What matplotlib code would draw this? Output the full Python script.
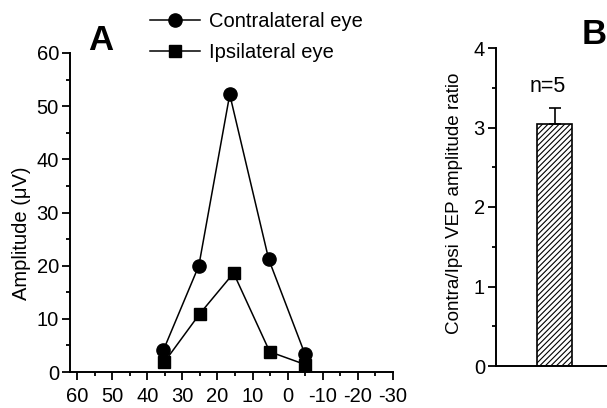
import matplotlib
matplotlib.use("Agg")
import matplotlib.pyplot as plt
from matplotlib.ticker import MultipleLocator

plt.rcParams['font.family'] = ['Liberation Sans', 'DejaVu Sans']
plt.rcParams['hatch.linewidth'] = 0.8
plt.rcParams['axes.unicode_minus'] = False

# ---- data ----
contra_x = [35.4, 25.3, 16.5, 5.4, -4.9]
contra_y = [4.1, 20.0, 52.2, 21.2, 3.4]
ipsi_x = [35.2, 25.1, 15.4, 5.1, -5.0]
ipsi_y = [1.8, 10.9, 18.6, 3.8, 1.4]
x_ticks = [60, 50, 40, 30, 20, 10, 0, -10, -20, -30]
y_ticks_a = [0, 10, 20, 30, 40, 50, 60]
ratio_val = [3.04]
ratio_err = [0.21]
ratio_n = ["n=5"]
y_ticks_b = [0, 1, 2, 3, 4]

W, H = 607, 408
fig = plt.figure(figsize=(W / 100, H / 100), dpi=100)


def rect(l, t, r, b):
    return [l / W, 1 - b / H, (r - l) / W, (b - t) / H]


def style(ax):
    for s in ['top', 'right']:
        ax.spines[s].set_visible(False)
    for s in ['left', 'bottom']:
        ax.spines[s].set_linewidth(1.4)
    ax.tick_params(which='major', direction='out', length=6, width=1.3,
                   labelsize=14.5, pad=2)
    ax.tick_params(which='minor', direction='out', length=3, width=1.3)


# ---- Panel A ----
axA = fig.add_axes(rect(70, 53, 393, 372))
style(axA)
axA.plot(contra_x, contra_y, '-o', color='black', lw=1.1, ms=9.5,
         label='Contralateral eye', clip_on=False, zorder=3)
axA.plot(ipsi_x, ipsi_y, '-s', color='black', lw=1.1, ms=8.5,
         label='Ipsilateral eye', clip_on=False, zorder=3)
axA.set_xlim(62, -30)
axA.set_ylim(0, 60)
axA.set_xticks(x_ticks)
axA.set_yticks(y_ticks_a)
axA.xaxis.set_minor_locator(MultipleLocator(5))
axA.yaxis.set_minor_locator(MultipleLocator(5))
axA.tick_params(axis='x', pad=5)
fig.text(22 / W, 1 - 233 / H, 'Amplitude (\u03bcV)', rotation=90,
         ha='center', va='center', fontsize=14.5)
fig.text(101 / W, 1 - 40 / H, 'A', fontsize=25, fontweight='bold',
         ha='center', va='center')
fig.legend(loc='upper left', bbox_to_anchor=(150 / W, 1 - 12 / H),
           frameon=False, fontsize=14.5, handlelength=2.5,
           handletextpad=0.45, labelspacing=0.6, borderaxespad=0,
           borderpad=0)

# ---- Panel B ----
axB = fig.add_axes(rect(496, 48, 620, 366))
style(axB)
axB.bar([0], ratio_val, width=0.7, color='white', edgecolor='black',
        hatch='//////', linewidth=1.2)
axB.errorbar([0], ratio_val, yerr=[[0], ratio_err], fmt='none',
             ecolor='black', elinewidth=1.2, capsize=4, capthick=1.2)
axB.text(-0.13, ratio_val[0] + ratio_err[0] + 0.13, ratio_n[0],
         ha='center', va='bottom', fontsize=15.5)
axB.set_xlim(-1.17, 1.31)
axB.set_ylim(0, 4)
axB.set_yticks(y_ticks_b)
axB.set_xticks([])
axB.yaxis.set_minor_locator(MultipleLocator(0.5))
fig.text(455 / W, 1 - 203 / H, 'Contra/Ipsi VEP amplitude ratio',
         rotation=90, ha='center', va='center', fontsize=13.6)
fig.text(594 / W, 1 - 35 / H, 'B', fontsize=25, fontweight='bold',
         ha='center', va='center')

fig.savefig('out.png', dpi=100)
